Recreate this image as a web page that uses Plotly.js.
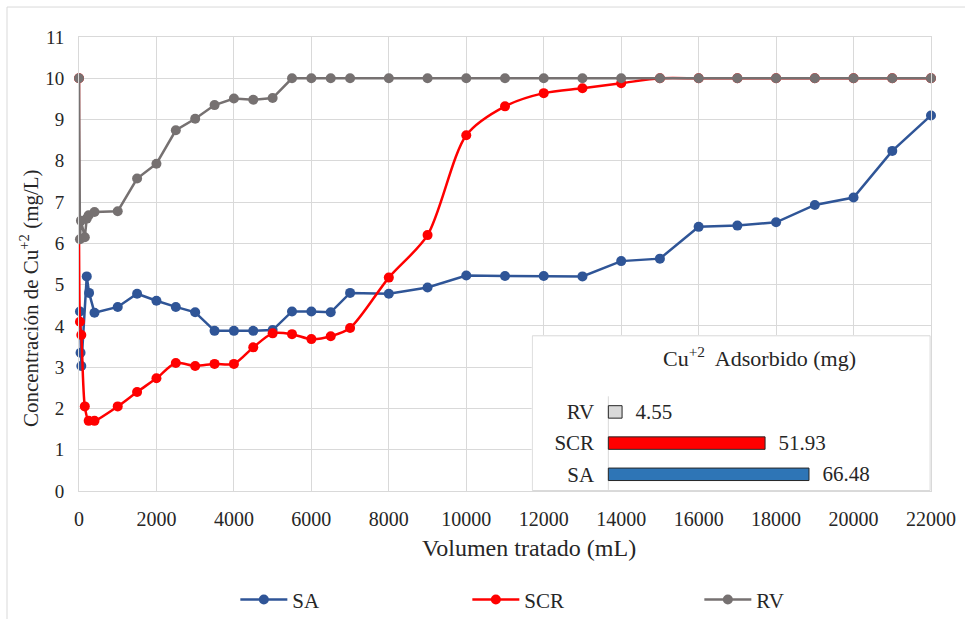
<!DOCTYPE html>
<html>
<head>
<meta charset="utf-8">
<script src="https://cdn.plot.ly/plotly-3.0.1.min.js"></script>
<style>
html,body{margin:0;padding:0;background:#fff;}
#chart{width:965px;height:619px;}
</style>
</head>
<body>
<div id="chart"></div>
<script>
// Main chart data
var saX = [25, 40, 60, 200, 260, 400, 1000, 1500, 2000, 2500, 3000, 3500, 4000, 4500, 5000, 5500, 6000, 6500, 7000, 8000, 9000, 10000, 11000, 12000, 13000, 14000, 15000, 16000, 17000, 18000, 19000, 20000, 21000, 22000];
var saY = [4.35, 3.35, 3.03, 5.2, 4.8, 4.32, 4.46, 4.78, 4.61, 4.46, 4.33, 3.88, 3.88, 3.88, 3.9, 4.35, 4.35, 4.33, 4.8, 4.78, 4.93, 5.22, 5.21, 5.21, 5.2, 5.57, 5.63, 6.4, 6.43, 6.51, 6.93, 7.11, 8.24, 9.1];

var scrX = [0, 25, 60, 150, 250, 400, 1000, 1500, 2000, 2500, 3000, 3500, 4000, 4500, 5000, 5500, 6000, 6500, 7000, 8000, 9000, 10000, 11000, 12000, 13000, 14000, 15000, 16000, 17000, 18000, 19000, 20000, 21000, 22000];
var scrY = [10, 4.1, 3.78, 2.05, 1.7, 1.7, 2.05, 2.4, 2.73, 3.1, 3.03, 3.08, 3.08, 3.48, 3.82, 3.8, 3.68, 3.75, 3.95, 5.17, 6.2, 8.62, 9.32, 9.64, 9.76, 9.88, 10, 10, 10, 10, 10, 10, 10, 10];

var rvX = [0, 25, 50, 150, 200, 250, 400, 1000, 1500, 2000, 2500, 3000, 3500, 4000, 4500, 5000, 5500, 6000, 6500, 7000, 8000, 9000, 10000, 11000, 12000, 13000, 14000, 15000, 16000, 17000, 18000, 19000, 20000, 21000, 22000];
var rvY = [10, 6.1, 6.55, 6.15, 6.6, 6.68, 6.76, 6.78, 7.57, 7.93, 8.74, 9.02, 9.35, 9.51, 9.48, 9.52, 10, 10, 10, 10, 10, 10, 10, 10, 10, 10, 10, 10, 10, 10, 10, 10, 10, 10, 10];

// Inset bar chart data
var barCats = ['SA', 'SCR', 'RV'];
var barVals = [66.48, 51.93, 4.55];
var barLabels = ['\u00a0\u00a066.48', '\u00a0\u00a051.93', '\u00a0\u00a04.55'];

var xTicks = [0, 2000, 4000, 6000, 8000, 10000, 12000, 14000, 16000, 18000, 20000, 22000];
var yTicks = [0, 1, 2, 3, 4, 5, 6, 7, 8, 9, 10, 11];

var xTitle = 'Volumen tratado (mL)';
var yTitle = 'Concentración de Cu<sup>+2</sup> (mg/L)';
var insetTitle = 'Cu<sup>+2</sup>  Adsorbido (mg)';

var FONT = 'Liberation Serif';
var GRID = '#d9d9d9';
var TXT = '#262626';

var traces = [
  {x: saX, y: saY, name: 'SA', type: 'scatter', mode: 'lines+markers', cliponaxis: false,
   line: {color: '#2f5597', width: 2.5}, marker: {color: '#2f5597', size: 10}},
  {x: scrX, y: scrY, name: 'SCR', type: 'scatter', mode: 'lines+markers', cliponaxis: false,
   line: {color: '#ff0000', width: 2.5, shape: 'spline', smoothing: 0.8}, marker: {color: '#ff0000', size: 10}},
  {x: rvX, y: rvY, name: 'RV', type: 'scatter', mode: 'lines+markers', cliponaxis: false,
   line: {color: '#767171', width: 2.5}, marker: {color: '#767171', size: 10}},
  {x: barVals, y: barCats, type: 'bar', orientation: 'h', xaxis: 'x2', yaxis: 'y2', showlegend: false,
   text: barLabels, textposition: 'outside', constraintext: 'none', cliponaxis: false, hoverinfo: 'none',
   textfont: {family: FONT, size: 21, color: TXT},
   marker: {color: ['#2e75b6', '#ff0000', '#d9d9d9'], line: {color: '#262626', width: 1}}}
];

var layout = {
  width: 965, height: 619,
  margin: {l: 79, r: 34, t: 37, b: 128},
  paper_bgcolor: '#ffffff', plot_bgcolor: '#ffffff',
  font: {family: FONT, size: 19, color: TXT},
  showlegend: true,
  legend: {orientation: 'h', x: 0.1835, xanchor: 'left', yref: 'container', y: 0.031, yanchor: 'middle',
           font: {family: FONT, size: 21, color: TXT}, itemwidth: 47, entrywidth: 170, traceorder: 'normal'},
  xaxis: {range: [0, 22000], tickvals: xTicks, ticktext: xTicks.map(String),
          showgrid: true, gridcolor: GRID, gridwidth: 1, zeroline: false,
          showline: true, linecolor: GRID, linewidth: 1, mirror: true,
          ticks: 'outside', ticklen: 10, tickcolor: 'rgba(0,0,0,0)',
          tickfont: {family: FONT, size: 20, color: TXT}},
  yaxis: {range: [0, 11], tickvals: yTicks, ticktext: yTicks.map(String),
          showgrid: true, gridcolor: GRID, gridwidth: 1, zeroline: false,
          showline: true, linecolor: GRID, linewidth: 1, mirror: true,
          ticks: 'outside', ticklen: 10, tickcolor: 'rgba(0,0,0,0)',
          tickfont: {family: FONT, size: 19, color: TXT}},
  xaxis2: {domain: [0.5313, 1], anchor: 'y2', range: [-25.4, 106.9], visible: false, fixedrange: true},
  yaxis2: {domain: [0, 0.3436], anchor: 'free', position: 0.6213, type: 'category',
           range: [-0.535, 4.465], showgrid: false, zeroline: false, showline: false,
           ticks: 'outside', ticklen: 10, tickcolor: 'rgba(0,0,0,0)',
           tickfont: {family: FONT, size: 21, color: TXT}, fixedrange: true},
  bargap: 0.6,
  shapes: [
    {type: 'rect', xref: 'x2', yref: 'y2', x0: -25.2, x1: 106.6, y0: -0.52, y1: 4.44,
     layer: 'below', fillcolor: '#ffffff', line: {color: GRID, width: 1}},
    {type: 'line', xref: 'x2', yref: 'y2', x0: 0, x1: 0, y0: -0.5, y1: 2.5,
     layer: 'below', line: {color: GRID, width: 1}},
    {type: 'rect', xref: 'paper', yref: 'paper', x0: -0.0845, x1: 1.05, y0: -0.3, y1: 1.066,
     layer: 'below', fillcolor: 'rgba(0,0,0,0)', line: {color: GRID, width: 1}}
  ],
  annotations: [
    {xref: 'paper', yref: 'paper', x: 0.799, y: 0.295, xanchor: 'center', yanchor: 'middle',
     text: insetTitle, showarrow: false, font: {family: FONT, size: 22, color: TXT}},
    {xref: 'paper', yref: 'paper', x: 0.528, y: -0.1256, xanchor: 'center', yanchor: 'middle',
     text: xTitle, showarrow: false, font: {family: FONT, size: 24, color: TXT}},
    {xref: 'paper', yref: 'paper', x: -0.0587, y: 0.425, xanchor: 'center', yanchor: 'middle',
     text: yTitle, textangle: -90, showarrow: false, font: {family: FONT, size: 21, color: TXT}}
  ]
};

Plotly.newPlot('chart', traces, layout, {staticPlot: true, displayModeBar: false});
</script>
</body>
</html>
